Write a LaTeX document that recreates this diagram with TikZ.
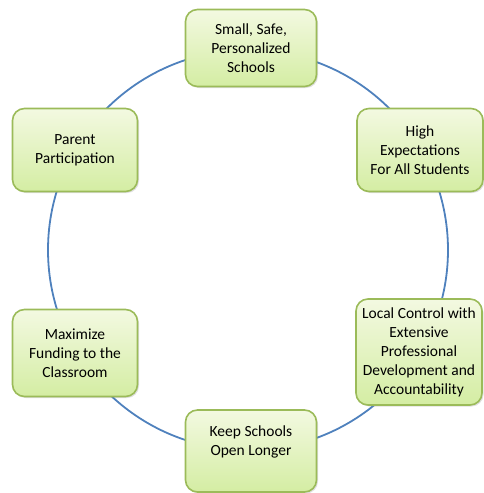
\documentclass[tikz,border=0pt]{standalone}
\usepackage{fontspec}
\setmainfont{Carlito}
\usetikzlibrary{shadows}
\definecolor{ringblue}{RGB}{79,129,189}
\definecolor{boxborder}{RGB}{155,187,89}
\definecolor{boxtop}{RGB}{243,249,225}
\definecolor{boxbot}{RGB}{212,237,163}
\begin{document}
\begin{tikzpicture}[x=1pt,y=-1pt,
  card/.style={draw=boxborder, line width=1.6pt, rounded corners=12pt,
    top color=boxtop, bottom color=boxbot, align=center, inner sep=0pt,
    font=\fontsize{15.5}{19}\selectfont,
    drop shadow={opacity=0.25, shadow xshift=1.5pt, shadow yshift=-1.5pt}},
  ring/.style={draw=ringblue, line width=1.8pt}]
\useasboundingbox (0,0) rectangle (483,493);
\coordinate (c) at (248,250);
\draw[ring] (c) circle (200pt);
\node[card, minimum width=131pt, minimum height=77pt] (top) at (251,48) {Small, Safe,\\Personalized\\Schools};
\node[card, minimum width=126pt, minimum height=83pt] (hi) at (420,150) {High\\Expectations\\For All Students};
\node[card, minimum width=126pt, minimum height=106pt] (lc) at (419,352) {Local Control with\\Extensive\\Professional\\Development and\\Accountability};
\node[card, minimum width=131pt, minimum height=82pt] (bot) at (251,451) {Keep Schools\\Open Longer\\[1pt]\mbox{}};
\node[card, minimum width=125pt, minimum height=83pt] (pp) at (75,150) {Parent\\Participation};
\node[card, minimum width=125pt, minimum height=87pt] (mf) at (75,353) {Maximize\\Funding to the\\Classroom};
\end{tikzpicture}
\end{document}
